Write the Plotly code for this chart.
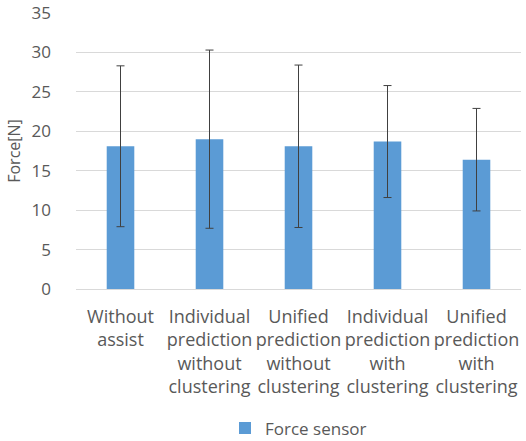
import plotly.graph_objects as go

categories = [
    "Without<br>assist",
    "Individual<br>prediction<br>without<br>clustering",
    "Unified<br>prediction<br>without<br>clustering",
    "Individual<br>prediction<br>with<br>clustering",
    "Unified<br>prediction<br>with<br>clustering",
]
force_mean = [18.1, 19.0, 18.1, 18.7, 16.4]
force_sd = [10.2, 11.3, 10.3, 7.1, 6.5]

TEXT = "#595959"
FONT = "Open Sans"

fig = go.Figure()
fig.add_trace(
    go.Bar(
        x=categories,
        y=force_mean,
        name="Force sensor",
        marker=dict(color="#5b9bd5", line=dict(width=0)),
        error_y=dict(type="data", array=force_sd, visible=True,
                     color="#404040", thickness=1, width=4),
    )
)

fig.update_layout(
    width=526,
    height=441,
    margin=dict(l=76, r=5, t=13, b=152, autoexpand=False),
    paper_bgcolor="white",
    plot_bgcolor="white",
    font=dict(family=FONT, size=17, color=TEXT),
    bargap=0.69,
    showlegend=True,
    legend=dict(orientation="h", x=0.5, xanchor="center", y=-0.505,
                yanchor="middle", itemwidth=30,
                font=dict(size=17, color=TEXT)),
)
fig.update_xaxes(showgrid=False, showline=False, ticks="", ticklabelstandoff=15,
                 automargin=False, tickfont=dict(size=18, color=TEXT))
fig.update_yaxes(
    range=[0, 35], dtick=5, showgrid=True, gridcolor="#d9d9d9", gridwidth=1,
    zeroline=True, zerolinecolor="#d9d9d9", zerolinewidth=1, automargin=False,
    ticks="", ticklabelstandoff=24, tickfont=dict(size=17, color=TEXT),
    title=dict(text="Force[N]", standoff=6, font=dict(size=16, color=TEXT)),
)

# the page's default body margin would push the chart off the window
fig.write_html("out.html", config={"displayModeBar": False},
               post_script="document.body.style.margin = '0';")
